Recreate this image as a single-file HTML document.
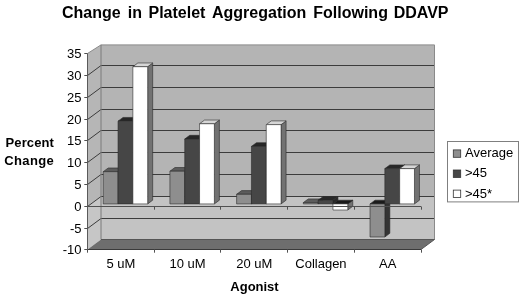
<!DOCTYPE html>
<html><head><meta charset="utf-8"><title>Change in Platelet Aggregation Following DDAVP</title>
<style>html,body{margin:0;padding:0;background:#fff}svg text{font-family:"Liberation Sans",Arial,sans-serif;fill:#000}</style>
</head><body>
<svg width="520" height="297" viewBox="0 0 520 297" style="display:block">
<rect width="520" height="297" fill="#fff"/>
<polygon points="101.0,44.9 434.5,44.9 434.5,196.5 101.0,196.5" fill="#b4b4b4"/>
<polygon points="101.0,196.5 434.5,196.5 434.5,239.5 101.0,239.5" fill="#c3c3c3"/>
<polygon points="87.5,53.5 101.0,44.9 101.0,196.5 87.5,206.5" fill="#b6b6b6"/>
<polygon points="87.5,206.5 101.0,196.5 101.0,239.5 87.5,249.5" fill="#c6c6c6"/>
<polygon points="87.5,249.5 101.0,239.5 434.5,239.5 421.0,249.5" fill="#6e6e6e"/>
<polyline points="87.5,228.50 101.0,218.50 434.5,218.50" fill="none" stroke="#3c3c3c" stroke-width="1"/>
<polyline points="87.5,206.50 101.0,196.50 434.5,196.50" fill="none" stroke="#3c3c3c" stroke-width="1"/>
<polyline points="87.5,184.50 101.0,174.50 434.5,174.50" fill="none" stroke="#3c3c3c" stroke-width="1"/>
<polyline points="87.5,162.50 101.0,152.50 434.5,152.50" fill="none" stroke="#3c3c3c" stroke-width="1"/>
<polyline points="87.5,140.50 101.0,130.50 434.5,130.50" fill="none" stroke="#3c3c3c" stroke-width="1"/>
<polyline points="87.5,119.50 101.0,109.50 434.5,109.50" fill="none" stroke="#3c3c3c" stroke-width="1"/>
<polyline points="87.5,97.50 101.0,87.50 434.5,87.50" fill="none" stroke="#3c3c3c" stroke-width="1"/>
<polyline points="87.5,75.50 101.0,65.50 434.5,65.50" fill="none" stroke="#3c3c3c" stroke-width="1"/>
<polyline points="87.5,53.50 101.0,44.9 434.5,44.9 434.5,239.50" fill="none" stroke="#8a8a8a" stroke-width="1"/>
<line x1="101.0" y1="44.9" x2="101.0" y2="239.50" stroke="#7a7a7a" stroke-width="1"/>
<line x1="101.0" y1="239.50" x2="434.5" y2="239.50" stroke="#555" stroke-width="1"/>
<line x1="421.0" y1="249.50" x2="434.5" y2="239.50" stroke="#555" stroke-width="1"/>
<polygon points="118.04,171.67 123.04,167.97 123.04,200.20 118.04,203.90" fill="#343434" stroke="#2a2a2a" stroke-width="0.6" stroke-linejoin="round"/>
<polygon points="103.22,171.67 108.22,167.97 123.04,167.97 118.04,171.67" fill="#5c5c5c" stroke="#2a2a2a" stroke-width="0.6" stroke-linejoin="round"/>
<polygon points="103.22,171.67 118.04,171.67 118.04,203.90 103.22,203.90" fill="#8e8e8e" stroke="#2a2a2a" stroke-width="0.6" stroke-linejoin="round"/>
<polygon points="132.86,121.14 137.86,117.44 137.86,200.20 132.86,203.90" fill="#2a2a2a" stroke="#2a2a2a" stroke-width="0.6" stroke-linejoin="round"/>
<polygon points="118.04,121.14 123.04,117.44 137.86,117.44 132.86,121.14" fill="#272727" stroke="#2a2a2a" stroke-width="0.6" stroke-linejoin="round"/>
<polygon points="118.04,121.14 132.86,121.14 132.86,203.90 118.04,203.90" fill="#464646" stroke="#2a2a2a" stroke-width="0.6" stroke-linejoin="round"/>
<polygon points="147.68,66.69 152.68,62.99 152.68,200.20 147.68,203.90" fill="#727272" stroke="#2a2a2a" stroke-width="0.6" stroke-linejoin="round"/>
<polygon points="132.86,66.69 137.86,62.99 152.68,62.99 147.68,66.69" fill="#d6d6d6" stroke="#2a2a2a" stroke-width="0.6" stroke-linejoin="round"/>
<polygon points="132.86,66.69 147.68,66.69 147.68,203.90 132.86,203.90" fill="#ffffff" stroke="#2a2a2a" stroke-width="0.6" stroke-linejoin="round"/>
<polygon points="184.74,171.23 189.74,167.53 189.74,200.20 184.74,203.90" fill="#343434" stroke="#2a2a2a" stroke-width="0.6" stroke-linejoin="round"/>
<polygon points="169.92,171.23 174.92,167.53 189.74,167.53 184.74,171.23" fill="#5c5c5c" stroke="#2a2a2a" stroke-width="0.6" stroke-linejoin="round"/>
<polygon points="169.92,171.23 184.74,171.23 184.74,203.90 169.92,203.90" fill="#8e8e8e" stroke="#2a2a2a" stroke-width="0.6" stroke-linejoin="round"/>
<polygon points="199.56,139.00 204.56,135.30 204.56,200.20 199.56,203.90" fill="#2a2a2a" stroke="#2a2a2a" stroke-width="0.6" stroke-linejoin="round"/>
<polygon points="184.74,139.00 189.74,135.30 204.56,135.30 199.56,139.00" fill="#272727" stroke="#2a2a2a" stroke-width="0.6" stroke-linejoin="round"/>
<polygon points="184.74,139.00 199.56,139.00 199.56,203.90 184.74,203.90" fill="#464646" stroke="#2a2a2a" stroke-width="0.6" stroke-linejoin="round"/>
<polygon points="214.38,123.75 219.38,120.05 219.38,200.20 214.38,203.90" fill="#727272" stroke="#2a2a2a" stroke-width="0.6" stroke-linejoin="round"/>
<polygon points="199.56,123.75 204.56,120.05 219.38,120.05 214.38,123.75" fill="#d6d6d6" stroke="#2a2a2a" stroke-width="0.6" stroke-linejoin="round"/>
<polygon points="199.56,123.75 214.38,123.75 214.38,203.90 199.56,203.90" fill="#ffffff" stroke="#2a2a2a" stroke-width="0.6" stroke-linejoin="round"/>
<polygon points="251.44,194.32 256.44,190.62 256.44,200.20 251.44,203.90" fill="#343434" stroke="#2a2a2a" stroke-width="0.6" stroke-linejoin="round"/>
<polygon points="236.62,194.32 241.62,190.62 256.44,190.62 251.44,194.32" fill="#5c5c5c" stroke="#2a2a2a" stroke-width="0.6" stroke-linejoin="round"/>
<polygon points="236.62,194.32 251.44,194.32 251.44,203.90 236.62,203.90" fill="#8e8e8e" stroke="#2a2a2a" stroke-width="0.6" stroke-linejoin="round"/>
<polygon points="266.26,146.40 271.26,142.70 271.26,200.20 266.26,203.90" fill="#2a2a2a" stroke="#2a2a2a" stroke-width="0.6" stroke-linejoin="round"/>
<polygon points="251.44,146.40 256.44,142.70 271.26,142.70 266.26,146.40" fill="#272727" stroke="#2a2a2a" stroke-width="0.6" stroke-linejoin="round"/>
<polygon points="251.44,146.40 266.26,146.40 266.26,203.90 251.44,203.90" fill="#464646" stroke="#2a2a2a" stroke-width="0.6" stroke-linejoin="round"/>
<polygon points="281.08,124.62 286.08,120.92 286.08,200.20 281.08,203.90" fill="#727272" stroke="#2a2a2a" stroke-width="0.6" stroke-linejoin="round"/>
<polygon points="266.26,124.62 271.26,120.92 286.08,120.92 281.08,124.62" fill="#d6d6d6" stroke="#2a2a2a" stroke-width="0.6" stroke-linejoin="round"/>
<polygon points="266.26,124.62 281.08,124.62 281.08,203.90 266.26,203.90" fill="#ffffff" stroke="#2a2a2a" stroke-width="0.6" stroke-linejoin="round"/>
<polygon points="318.14,202.59 323.14,198.89 323.14,200.20 318.14,203.90" fill="#343434" stroke="#2a2a2a" stroke-width="0.6" stroke-linejoin="round"/>
<polygon points="303.32,202.59 308.32,198.89 323.14,198.89 318.14,202.59" fill="#5c5c5c" stroke="#2a2a2a" stroke-width="0.6" stroke-linejoin="round"/>
<polygon points="303.32,202.59 318.14,202.59 318.14,203.90 303.32,203.90" fill="#8e8e8e" stroke="#2a2a2a" stroke-width="0.6" stroke-linejoin="round"/>
<polygon points="332.96,200.20 337.96,196.50 337.96,200.20 332.96,203.90" fill="#2a2a2a" stroke="#2a2a2a" stroke-width="0.6" stroke-linejoin="round"/>
<polygon points="318.14,200.20 323.14,196.50 337.96,196.50 332.96,200.20" fill="#272727" stroke="#2a2a2a" stroke-width="0.6" stroke-linejoin="round"/>
<polygon points="318.14,200.20 332.96,200.20 332.96,203.90 318.14,203.90" fill="#464646" stroke="#2a2a2a" stroke-width="0.6" stroke-linejoin="round"/>
<polygon points="347.78,203.90 352.78,200.20 352.78,206.30 347.78,210.00" fill="#727272" stroke="#2a2a2a" stroke-width="0.6" stroke-linejoin="round"/>
<polygon points="332.96,203.90 337.96,200.20 352.78,200.20 347.78,203.90" fill="#1a1a1a" stroke="#2a2a2a" stroke-width="0.6" stroke-linejoin="round"/>
<polygon points="332.96,203.90 347.78,203.90 347.78,210.00 332.96,210.00" fill="#ffffff" stroke="#2a2a2a" stroke-width="0.6" stroke-linejoin="round"/>
<polygon points="384.84,203.90 389.84,200.20 389.84,233.31 384.84,237.01" fill="#343434" stroke="#2a2a2a" stroke-width="0.6" stroke-linejoin="round"/>
<polygon points="370.02,203.90 375.02,200.20 389.84,200.20 384.84,203.90" fill="#1a1a1a" stroke="#2a2a2a" stroke-width="0.6" stroke-linejoin="round"/>
<polygon points="370.02,203.90 384.84,203.90 384.84,237.01 370.02,237.01" fill="#8e8e8e" stroke="#2a2a2a" stroke-width="0.6" stroke-linejoin="round"/>
<polygon points="399.66,168.62 404.66,164.92 404.66,200.20 399.66,203.90" fill="#2a2a2a" stroke="#2a2a2a" stroke-width="0.6" stroke-linejoin="round"/>
<polygon points="384.84,168.62 389.84,164.92 404.66,164.92 399.66,168.62" fill="#272727" stroke="#2a2a2a" stroke-width="0.6" stroke-linejoin="round"/>
<polygon points="384.84,168.62 399.66,168.62 399.66,203.90 384.84,203.90" fill="#464646" stroke="#2a2a2a" stroke-width="0.6" stroke-linejoin="round"/>
<polygon points="414.48,168.62 419.48,164.92 419.48,200.20 414.48,203.90" fill="#727272" stroke="#2a2a2a" stroke-width="0.6" stroke-linejoin="round"/>
<polygon points="399.66,168.62 404.66,164.92 419.48,164.92 414.48,168.62" fill="#d6d6d6" stroke="#2a2a2a" stroke-width="0.6" stroke-linejoin="round"/>
<polygon points="399.66,168.62 414.48,168.62 414.48,203.90 399.66,203.90" fill="#ffffff" stroke="#2a2a2a" stroke-width="0.6" stroke-linejoin="round"/>
<line x1="87.5" y1="206.5" x2="421.0" y2="206.5" stroke="#505050" stroke-width="1"/>
<line x1="154.5" y1="206.50" x2="154.5" y2="209.70" stroke="#505050" stroke-width="1"/>
<line x1="220.5" y1="206.50" x2="220.5" y2="209.70" stroke="#505050" stroke-width="1"/>
<line x1="287.5" y1="206.50" x2="287.5" y2="209.70" stroke="#505050" stroke-width="1"/>
<line x1="354.5" y1="206.50" x2="354.5" y2="209.70" stroke="#505050" stroke-width="1"/>
<line x1="421.5" y1="206.50" x2="421.5" y2="209.70" stroke="#505050" stroke-width="1"/>
<line x1="87.5" y1="53.50" x2="87.5" y2="249.50" stroke="#5a5a5a" stroke-width="1"/>
<line x1="87.5" y1="249.50" x2="421.0" y2="249.50" stroke="#3a3a3a" stroke-width="1"/>
<line x1="84.3" y1="249.50" x2="87.5" y2="249.50" stroke="#505050" stroke-width="1"/>
<text x="81.5" y="254.20" text-anchor="end" font-size="13">-10</text>
<line x1="84.3" y1="228.50" x2="87.5" y2="228.50" stroke="#505050" stroke-width="1"/>
<text x="81.5" y="233.20" text-anchor="end" font-size="13">-5</text>
<line x1="84.3" y1="206.50" x2="87.5" y2="206.50" stroke="#505050" stroke-width="1"/>
<text x="81.5" y="211.20" text-anchor="end" font-size="13">0</text>
<line x1="84.3" y1="184.50" x2="87.5" y2="184.50" stroke="#505050" stroke-width="1"/>
<text x="81.5" y="189.20" text-anchor="end" font-size="13">5</text>
<line x1="84.3" y1="162.50" x2="87.5" y2="162.50" stroke="#505050" stroke-width="1"/>
<text x="81.5" y="167.20" text-anchor="end" font-size="13">10</text>
<line x1="84.3" y1="140.50" x2="87.5" y2="140.50" stroke="#505050" stroke-width="1"/>
<text x="81.5" y="145.20" text-anchor="end" font-size="13">15</text>
<line x1="84.3" y1="119.50" x2="87.5" y2="119.50" stroke="#505050" stroke-width="1"/>
<text x="81.5" y="124.20" text-anchor="end" font-size="13">20</text>
<line x1="84.3" y1="97.50" x2="87.5" y2="97.50" stroke="#505050" stroke-width="1"/>
<text x="81.5" y="102.20" text-anchor="end" font-size="13">25</text>
<line x1="84.3" y1="75.50" x2="87.5" y2="75.50" stroke="#505050" stroke-width="1"/>
<text x="81.5" y="80.20" text-anchor="end" font-size="13">30</text>
<line x1="84.3" y1="53.50" x2="87.5" y2="53.50" stroke="#505050" stroke-width="1"/>
<text x="81.5" y="58.20" text-anchor="end" font-size="13">35</text>
<line x1="87.5" y1="249.50" x2="87.5" y2="252.70" stroke="#505050" stroke-width="1"/>
<line x1="154.5" y1="249.50" x2="154.5" y2="252.70" stroke="#505050" stroke-width="1"/>
<line x1="220.5" y1="249.50" x2="220.5" y2="252.70" stroke="#505050" stroke-width="1"/>
<line x1="287.5" y1="249.50" x2="287.5" y2="252.70" stroke="#505050" stroke-width="1"/>
<line x1="354.5" y1="249.50" x2="354.5" y2="252.70" stroke="#505050" stroke-width="1"/>
<line x1="421.5" y1="249.50" x2="421.5" y2="252.70" stroke="#505050" stroke-width="1"/>
<text x="120.85" y="268.1" text-anchor="middle" font-size="13">5 uM</text>
<text x="187.55" y="268.1" text-anchor="middle" font-size="13">10 uM</text>
<text x="254.25" y="268.1" text-anchor="middle" font-size="13">20 uM</text>
<text x="320.95" y="268.1" text-anchor="middle" font-size="13">Collagen</text>
<text x="387.65" y="268.1" text-anchor="middle" font-size="13">AA</text>
<text y="17.8" font-size="16" font-weight="bold" xml:space="default"><tspan x="62.00">Change</tspan> <tspan x="127.75">in</tspan> <tspan x="148.50">Platelet</tspan> <tspan x="212.00">Aggregation</tspan> <tspan x="313.25">Following</tspan> <tspan x="393.70">DDAVP</tspan></text>
<text x="5.6" y="147.3" font-size="13" font-weight="bold" letter-spacing="0.1">Percent</text>
<text x="4.2" y="164.5" font-size="13" font-weight="bold" letter-spacing="0.38">Change</text>
<text x="254.5" y="290.5" text-anchor="middle" font-size="13" font-weight="bold">Agonist</text>
<rect x="447.5" y="141.5" width="71" height="60.4" fill="#fff" stroke="#7f7f7f" stroke-width="1"/>
<rect x="453.3" y="149.90" width="7.4" height="7.4" fill="#8e8e8e" stroke="#333" stroke-width="0.8"/>
<text x="465" y="157.30" font-size="13">Average</text>
<rect x="453.3" y="170.00" width="7.4" height="7.4" fill="#474747" stroke="#333" stroke-width="0.8"/>
<text x="465" y="177.40" font-size="13">&gt;45</text>
<rect x="453.3" y="190.10" width="7.4" height="7.4" fill="#ffffff" stroke="#333" stroke-width="0.8"/>
<text x="465" y="197.50" font-size="13">&gt;45*</text>
</svg>
</body></html>
